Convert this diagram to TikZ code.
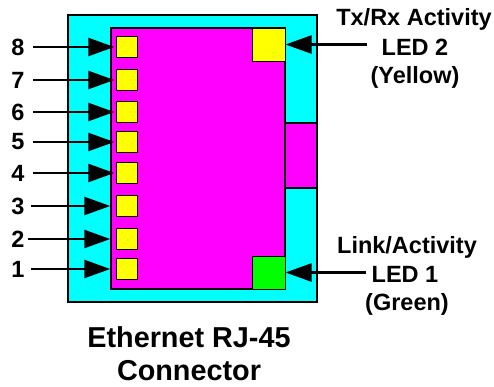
\documentclass[tikz,border=0pt]{standalone}
\usepackage{fontspec}
\setmainfont{Liberation Sans}
\usetikzlibrary{arrows.meta}
\definecolor{shellcyan}{RGB}{0,255,255}
\definecolor{bodymagenta}{RGB}{255,0,255}
\definecolor{ledyellow}{RGB}{255,255,0}
\definecolor{ledgreen}{RGB}{0,255,0}
\tikzset{
  pinbox/.style = {draw, line width = 1pt, fill = ledyellow, minimum size = 21.5pt, inner sep = 0pt},
  ledbox/.style = {draw, line width = 1pt, minimum size = 33pt, inner sep = 0pt},
  pinlabel/.style = {font = \fontsize{23.5}{28}\selectfont\bfseries, inner sep = 0pt, minimum width = 26pt},
  ledlabel/.style = {font = \fontsize{23.5}{28}\selectfont\bfseries, inner sep = 0pt, anchor = base},
  caption/.style = {font = \fontsize{28.8}{34}\selectfont\bfseries, inner sep = 0pt, anchor = base},
  pointer/.style = {line width = 2.5pt, -{Triangle[length = 26pt, width = 18pt]}}
}
\begin{document}
\begin{tikzpicture}
        [x = 1pt, y = -1pt]
        \useasboundingbox (0,0) rectangle (494,386);
        \draw[line width = 2.5pt, fill = shellcyan] (68,15) rectangle (317,302);
        \draw[line width = 2pt, fill = bodymagenta] (111,28) rectangle (285,289);
        \draw[line width = 2pt, fill = bodymagenta] (285,123) rectangle (317,188);
        \node[ledbox, fill = ledyellow] (led2) at (268.5,44.5) {};
        \node[ledbox, fill = ledgreen] (led1) at (268.5,272.5) {};
        % pins: number / height / start offset / end offset
        \foreach \n/\y/\s/\e in {8/47/2/1.5, 7/80/2/1.5, 6/112/2/1.5, 5/142/2/1.5,
                                 4/173/2/1.5, 3/206/0/5.5, 2/239/-3/5.5, 1/269/0/5.5}
        {
          \node[pinbox] (pin\n) at (127,\y) {};
          \node[pinlabel] (num\n) at (18,\y) {\n};
          \draw[pointer, shorten <= \s pt, shorten >= \e pt] (num\n.east) -- (pin\n.west);
        }
        \node[ledlabel] (txa) at (414,25.5) {Tx/Rx Activity};
        \node[ledlabel] (txb) at (415,55) {LED 2};
        \node[ledlabel] (txc) at (415,83) {(Yellow)};
        \node[ledlabel] (lnka) at (407,253) {Link/Activity};
        \node[ledlabel] (lnkb) at (405,282) {LED 1};
        \node[ledlabel] (lnkc) at (407,310) {(Green)};
        \draw[pointer, shorten <= 15pt] (txb.west |- led2.east) -- (led2.east);
        \draw[pointer, shorten <= 6pt] (lnkb.west |- led1.east) -- (led1.east);
        \node[caption] (capa) at (189,347) {Ethernet RJ-45};
        \node[caption] (capb) at (189,380) {Connector};
      \end{tikzpicture}
\end{document}
